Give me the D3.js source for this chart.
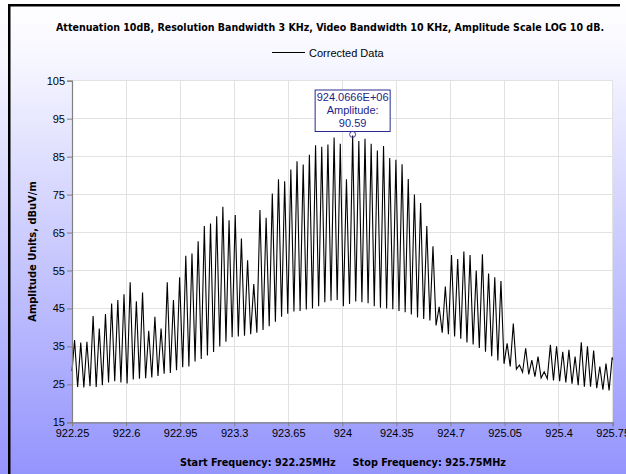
<!DOCTYPE html>
<html>
<head>
<meta charset="utf-8">
<script src="https://cdn.jsdelivr.net/npm/d3@7"></script>
<style>
  html, body { margin: 0; padding: 0; background: #fff; }
  svg { display: block; }
  text { font-family: "Liberation Sans", Arial, sans-serif; }
  .bold { font-family: "DejaVu Sans Condensed", "DejaVu Sans", sans-serif; font-weight: bold; font-stretch: condensed; }
</style>
</head>
<body>
<svg id="chart" width="626" height="474"></svg>
<script>
// Sweep settings
const titleText = "Attenuation 10dB, Resolution Bandwidth 3 KHz, Video Bandwidth 10 KHz, Amplitude Scale LOG 10 dB.";
const seriesName = "Corrected Data";
const yAxisTitle = "Amplitude Units, dBuV/m";
const startFreq = 922.25;
const stopFreq = 925.75;
const footerText = "Start Frequency: 922.25MHz     Stop Frequency: 925.75MHz";

// Tick labels
const xTicks = [922.25, 922.6, 922.95, 923.3, 923.65, 924, 924.35, 924.7, 925.05, 925.4, 925.75];
const xTickLabels = ["922.25", "922.6", "922.95", "923.3", "923.65", "924", "924.35", "924.7", "925.05", "925.4", "925.75"];
const yTicks = [15, 25, 35, 45, 55, 65, 75, 85, 95, 105];

// Trace: comb of carriers, 40 kHz apart, first one at 922.2666 MHz
const firstPeakFreq = 922.2666;
const peakSpacing = 0.04;
const peakLevels = [
  36.7, 36.0, 36.2, 43.0, 39.7, 43.5, 46.3, 47.2, 48.7, 51.9,
  46.9, 49.2, 39.1, 42.8, 39.7, 51.9, 47.2, 53.2, 58.9, 59.5,
  62.7, 66.7, 67.4, 69.3, 71.8, 68.2, 69.6, 63.4, 57.7, 51.4,
  70.9, 68.9, 75.3, 79.0, 78.5, 81.6, 83.8, 82.9, 85.5, 88.0,
  87.6, 88.2, 90.0, 88.4, 79.0, 90.59, 89.1, 89.7, 88.4, 86.6,
  87.8, 84.6, 84.2, 83.0, 79.1, 75.0, 72.8, 66.7, 61.4, 45.4,
  50.8, 59.1, 58.0, 60.0, 59.1, 55.0, 59.3, 54.2, 53.2, 52.2,
  35.8, 41.0, 30.1, 34.5, 31.4, 32.3, 28.3, 35.4, 35.0, 33.6,
  34.1, 32.3, 36.1, 35.0, 33.9, 29.7, 30.5, 32.1
];
// Floor level between neighbouring carriers
const troughLevels = [
  24.3, 24.2, 24.5, 24.3, 24.8, 25.5, 25.8, 25.5, 25.2, 26.3,
  26.5, 26.6, 26.8, 27.2, 27.8, 28.0, 28.7, 29.5, 29.7, 31.0,
  31.7, 32.6, 33.5, 35.0, 36.2, 37.4, 37.6, 37.8, 38.2, 38.6,
  39.3, 40.3, 41.5, 42.8, 43.6, 44.2, 44.3, 44.7, 45.0, 45.6,
  46.6, 47.0, 47.2, 45.6, 46.2, 46.8, 46.6, 46.4, 45.6, 45.2,
  45.0, 44.8, 44.3, 44.0, 43.4, 42.6, 42.2, 41.8, 40.5, 38.6,
  38.2, 37.6, 37.0, 36.0, 35.5, 34.6, 33.6, 32.4, 31.3, 30.4,
  29.7, 29.0, 28.2, 27.6, 27.0, 26.7, 26.5, 26.0, 25.8, 25.5,
  25.2, 24.8, 24.4, 24.4, 24.0, 23.6, 23.4
];
const traceStartLevel = 28.5;
const traceEndLevel = 31.5;

// Marker readout
const markerFreq = 924.0666;
const markerAmp = 90.59;
const markerLabel = ["924.0666E+06", "Amplitude:", "90.59"];

const svg = d3.select("#chart");
const W = 626, H = 474;
const plot = { left: 72, right: 612.7, top: 80.7, bottom: 422.3 };

// Background: white fading to lavender
const defs = svg.append("defs");
const grad = defs.append("linearGradient").attr("id", "bg").attr("x1", 0).attr("y1", 0).attr("x2", 0).attr("y2", 1);
grad.append("stop").attr("offset", "0").attr("stop-color", "#ffffff");
grad.append("stop").attr("offset", "0.12").attr("stop-color", "#f7f7ff");
grad.append("stop").attr("offset", "1").attr("stop-color", "#9494fd");
svg.append("rect").attr("width", W).attr("height", H).attr("fill", "url(#bg)");

// Frame lines
svg.append("rect").attr("x", 8).attr("y", 4).attr("width", 612).attr("height", 2.5).attr("fill", "#000");
svg.append("rect").attr("x", 8).attr("y", 4).attr("width", 2.5).attr("height", H - 4).attr("fill", "#000");

const x = d3.scaleLinear().domain([startFreq, stopFreq]).range([plot.left, plot.right]);
const y = d3.scaleLinear().domain([15, 105]).range([plot.bottom, plot.top]);

// Plot area
svg.append("rect")
  .attr("x", plot.left).attr("y", plot.top)
  .attr("width", plot.right - plot.left).attr("height", plot.bottom - plot.top)
  .attr("fill", "#fff");

// Grid
const grid = svg.append("g").attr("stroke", "#e2e2e2").attr("stroke-width", 1).attr("shape-rendering", "crispEdges");
grid.selectAll(".gx").data(xTicks.slice(1)).join("line")
  .attr("x1", d => x(d)).attr("x2", d => x(d))
  .attr("y1", plot.top).attr("y2", plot.bottom);
grid.selectAll(".gy").data(yTicks.slice(1)).join("line")
  .attr("x1", plot.left).attr("x2", plot.right)
  .attr("y1", d => y(d)).attr("y2", d => y(d));

// Trace points
const trace = [{ f: startFreq, v: traceStartLevel }];
peakLevels.forEach((p, i) => {
  const f = firstPeakFreq + i * peakSpacing;
  trace.push({ f: f, v: p });
  if (i < troughLevels.length) trace.push({ f: f + peakSpacing / 2, v: troughLevels[i] });
});
trace.push({ f: stopFreq, v: traceEndLevel });

const line = d3.line().x(d => x(d.f)).y(d => y(d.v));
svg.append("path")
  .datum(trace)
  .attr("d", line)
  .attr("fill", "none")
  .attr("stroke", "#000")
  .attr("stroke-width", 1.1)
  .attr("stroke-linejoin", "miter");

// Axes
const xAxis = d3.axisBottom(x).tickValues(xTicks).tickFormat((d, i) => xTickLabels[i]).tickSize(4).tickPadding(3);
const gx = svg.append("g").attr("transform", `translate(0,${plot.bottom})`).call(xAxis);
const yAxis = d3.axisLeft(y).tickValues(yTicks).tickSize(5).tickPadding(2);
const gy = svg.append("g").attr("transform", `translate(${plot.left},0)`).call(yAxis);
[gx, gy].forEach(g => {
  g.select(".domain").attr("stroke", "#808080").attr("stroke-width", 1.2);
  g.selectAll(".tick line").attr("stroke", "#808080");
  g.selectAll(".tick text").attr("fill", "#000").style("font-size", "11px")
    .style("font-family", "'Liberation Sans', Arial, sans-serif");
});

// Title
svg.append("text").attr("class", "bold")
  .attr("x", 56).attr("y", 31)
  .attr("textLength", 548).attr("lengthAdjust", "spacingAndGlyphs")
  .style("font-size", "11px").attr("fill", "#000")
  .text(titleText);

// Legend
svg.append("line").attr("x1", 272).attr("x2", 305).attr("y1", 52.5).attr("y2", 52.5)
  .attr("stroke", "#000").attr("stroke-width", 1);
svg.append("text").attr("x", 309).attr("y", 56.5)
  .style("font-size", "11px").attr("fill", "#000").text(seriesName);

// Y axis title
svg.append("text").attr("class", "bold")
  .attr("transform", `translate(36,${(plot.top + plot.bottom) / 2}) rotate(-90)`)
  .attr("text-anchor", "middle")
  .style("font-size", "11px").attr("fill", "#000")
  .text(yAxisTitle);

// Footer
svg.append("text").attr("class", "bold")
  .attr("x", 180).attr("y", 466)
  .attr("textLength", 326).attr("lengthAdjust", "spacingAndGlyphs")
  .style("font-size", "11px").attr("fill", "#000")
  .style("white-space", "pre").attr("xml:space", "preserve")
  .text(footerText);

// Marker readout
const mx = x(markerFreq), my = y(markerAmp);
const boxW = 75, boxH = 41.5;
const boxY = 90;
svg.append("rect")
  .attr("x", mx - boxW / 2).attr("y", boxY).attr("width", boxW).attr("height", boxH)
  .attr("fill", "#fff").attr("stroke", "#2a2a8f").attr("stroke-width", 1);
svg.append("g").selectAll("text").data(markerLabel).join("text")
  .attr("x", mx).attr("y", (d, i) => boxY + 11 + i * 13.2)
  .attr("text-anchor", "middle")
  .style("font-size", "11px").attr("fill", "#1d1d8a")
  .text(d => d);
svg.append("circle")
  .attr("cx", mx).attr("cy", my - 1).attr("r", 3)
  .attr("fill", "none").attr("stroke", "#3a3ab0").attr("stroke-width", 1);
</script>
</body>
</html>
